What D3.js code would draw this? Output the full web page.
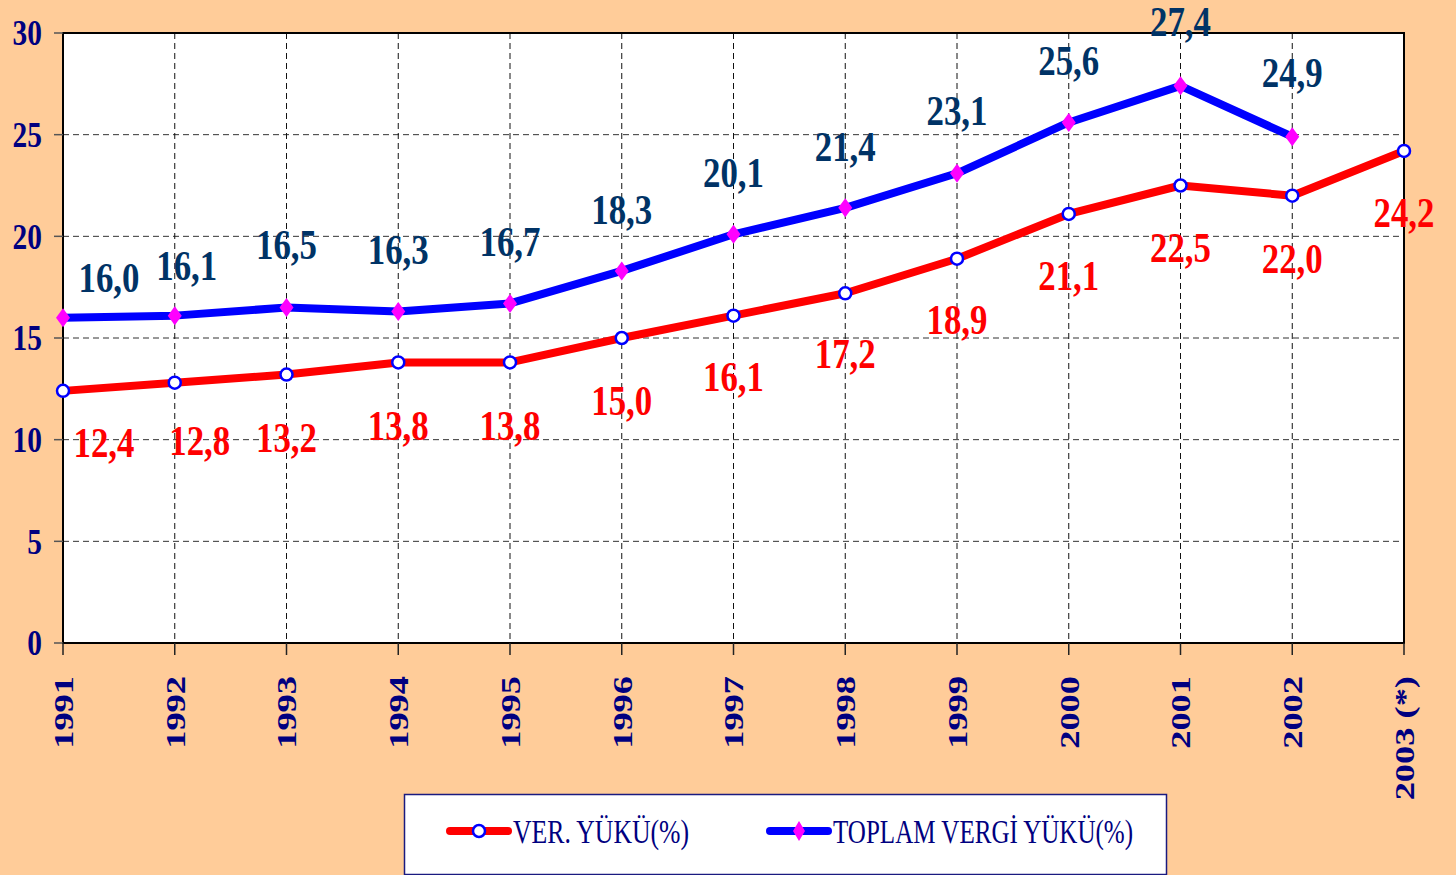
<!DOCTYPE html>
<html>
<head>
<meta charset="utf-8">
<script src="https://cdn.jsdelivr.net/npm/d3@7"></script>
<style>
    html, body { margin: 0; padding: 0; background: #FFCC99; }
    svg { display: block; }
</style>
</head>
<body>
<svg id="chart" width="1456" height="875"></svg>
<script>
// --- data ---
const years = ["1991", "1992", "1993", "1994", "1995", "1996", "1997", "1998", "1999", "2000", "2001", "2002", "2003 (*)"];
const verYuku = [12.4, 12.8, 13.2, 13.8, 13.8, 15.0, 16.1, 17.2, 18.9, 21.1, 22.5, 22.0, 24.2];
const toplamVergiYuku = [16.0, 16.1, 16.5, 16.3, 16.7, 18.3, 20.1, 21.4, 23.1, 25.6, 27.4, 24.9, null];
const yTicks = [0, 5, 10, 15, 20, 25, 30];
const seriesNames = ["VER. YÜKÜ(%)", "TOPLAM VERGİ YÜKÜ(%)"];

// label nudges (pixels) where the labels were moved by hand in the original
const redLabelDx = [41, 25, 0, 0, 0, 0, 0, 0, 0, 0, 0, 0, 0];
const redLabelDy = [51, 58, 63, 63, 63, 62, 61, 60, 61, 61, 62, 63, 61];
const blueLabelDx = [46, 12, 0, 0, 0, 0, 0, 0, 0, 0, 0, 0, 0];
const blueLabelDy = [-40, -50, -63, -62, -62, -62, -62, -62, -63, -62, -65, -64, 0];

const svg = d3.select("#chart");
const plot = { left: 63, right: 1404, top: 33, bottom: 643 };

const x = d3.scalePoint().domain(years).range([plot.left, plot.right]).padding(0);
const y = d3.scaleLinear().domain([0, 30]).range([plot.bottom, plot.top]);

const serif = "'Liberation Serif', 'Times New Roman', serif";
const fmt = v => v.toFixed(1).replace(".", ",");

// plot background
svg.append("rect")
    .attr("x", plot.left).attr("y", plot.top)
    .attr("width", plot.right - plot.left).attr("height", plot.bottom - plot.top)
    .attr("fill", "#ffffff");

// gridlines
svg.append("g")
    .selectAll("line")
    .data(yTicks.filter(t => t > 0 && t < 30))
    .enter().append("line")
    .attr("x1", plot.left).attr("x2", plot.right)
    .attr("y1", d => y(d)).attr("y2", d => y(d))
    .attr("stroke", "#333").attr("stroke-width", 1)
    .attr("stroke-dasharray", "6,4");

svg.append("g")
    .selectAll("line")
    .data(years.slice(1, -1))
    .enter().append("line")
    .attr("x1", d => x(d)).attr("x2", d => x(d))
    .attr("y1", plot.top).attr("y2", plot.bottom)
    .attr("stroke", "#111").attr("stroke-width", 1)
    .attr("stroke-dasharray", "6,4");

// border
svg.append("rect")
    .attr("x", plot.left).attr("y", plot.top)
    .attr("width", plot.right - plot.left).attr("height", plot.bottom - plot.top)
    .attr("fill", "none").attr("stroke", "#000").attr("stroke-width", 2);

// ticks
svg.append("g").selectAll("line")
    .data(yTicks).enter().append("line")
    .attr("x1", plot.left - 9).attr("x2", plot.left)
    .attr("y1", d => y(d)).attr("y2", d => y(d))
    .attr("stroke", "#555").attr("stroke-width", 1.5);

svg.append("g").selectAll("line")
    .data(years).enter().append("line")
    .attr("x1", d => x(d)).attr("x2", d => x(d))
    .attr("y1", plot.bottom).attr("y2", plot.bottom + 12)
    .attr("stroke", "#222").attr("stroke-width", 1.5);

// y tick labels
svg.append("g").selectAll("text")
    .data(yTicks).enter().append("text")
    .attr("transform", d => `translate(42,${y(d)}) scale(0.84,1)`)
    .attr("dy", "0.35em")
    .attr("text-anchor", "end")
    .style("font-family", serif).style("font-weight", "bold")
    .style("font-size", "35px").style("fill", "#000080")
    .text(d => d);

// x tick labels (rotated)
svg.append("g").selectAll("text")
    .data(years).enter().append("text")
    .attr("transform", d => `translate(${x(d)},676) rotate(-90) scale(1.3,1)`)
    .attr("dy", "0.35em")
    .attr("text-anchor", "end")
    .style("font-family", serif).style("font-weight", "bold")
    .style("font-size", "28px").style("fill", "#000080")
    .text(d => d);

// lines
const line = d3.line()
    .defined(d => d.v !== null)
    .x(d => x(d.year))
    .y(d => y(d.v));

const redData = years.map((yr, i) => ({ year: yr, v: verYuku[i], i }));
const blueData = years.map((yr, i) => ({ year: yr, v: toplamVergiYuku[i], i }));

svg.append("path").datum(redData)
    .attr("d", line).attr("fill", "none")
    .attr("stroke", "#ff0000").attr("stroke-width", 8)
    .attr("stroke-linejoin", "round");

svg.append("path").datum(blueData)
    .attr("d", line).attr("fill", "none")
    .attr("stroke", "#0000ff").attr("stroke-width", 8)
    .attr("stroke-linejoin", "round");

// markers
svg.append("g").selectAll("circle")
    .data(redData).enter().append("circle")
    .attr("cx", d => x(d.year)).attr("cy", d => y(d.v))
    .attr("r", 6)
    .attr("fill", "#fff").attr("stroke", "#0000ff").attr("stroke-width", 2.5);

const diamond = "M0,-9.5L7,0L0,9.5L-7,0Z";
svg.append("g").selectAll("path")
    .data(blueData.filter(d => d.v !== null)).enter().append("path")
    .attr("transform", d => `translate(${x(d.year)},${y(d.v)})`)
    .attr("d", diamond)
    .attr("fill", "#ff00ff");

// data labels
svg.append("g").selectAll("text")
    .data(redData).enter().append("text")
    .attr("transform", d => `translate(${x(d.year) + redLabelDx[d.i]},${y(d.v) + redLabelDy[d.i]}) scale(0.83,1)`)
    .attr("dy", "0.35em")
    .attr("text-anchor", "middle")
    .style("font-family", serif).style("font-weight", "bold")
    .style("font-size", "42px").style("fill", "#ff0000")
    .text(d => fmt(d.v));

svg.append("g").selectAll("text")
    .data(blueData.filter(d => d.v !== null)).enter().append("text")
    .attr("transform", d => `translate(${x(d.year) + blueLabelDx[d.i]},${y(d.v) + blueLabelDy[d.i]}) scale(0.83,1)`)
    .attr("dy", "0.35em")
    .attr("text-anchor", "middle")
    .style("font-family", serif).style("font-weight", "bold")
    .style("font-size", "42px").style("fill", "#003366")
    .text(d => fmt(d.v));

// legend
const legend = svg.append("g");
legend.append("rect")
    .attr("x", 404.5).attr("y", 794.5)
    .attr("width", 762).attr("height", 80)
    .attr("fill", "#fff").attr("stroke", "#1a1a80").attr("stroke-width", 1.5);

const legendItems = [
    { name: seriesNames[0], color: "#ff0000", x0: 450, x1: 508, textX: 513, textLen: 176, marker: "circle" },
    { name: seriesNames[1], color: "#0000ff", x0: 770, x1: 828, textX: 833, textLen: 300, marker: "diamond" }
];

legendItems.forEach(item => {
    const ly = 831;
    legend.append("line")
        .attr("x1", item.x0).attr("x2", item.x1)
        .attr("y1", ly).attr("y2", ly)
        .attr("stroke", item.color).attr("stroke-width", 8)
        .attr("stroke-linecap", "round");
    const mx = (item.x0 + item.x1) / 2;
    if (item.marker === "circle") {
        legend.append("circle")
            .attr("cx", mx).attr("cy", ly).attr("r", 6)
            .attr("fill", "#fff").attr("stroke", "#0000ff").attr("stroke-width", 2.5);
    } else {
        legend.append("path")
            .attr("transform", `translate(${mx},${ly})`)
            .attr("d", "M0,-10L6,0L0,10L-6,0Z")
            .attr("fill", "#ff00ff");
    }
    legend.append("text")
        .attr("x", item.textX).attr("y", ly + 12)
        .attr("textLength", item.textLen)
        .attr("lengthAdjust", "spacingAndGlyphs")
        .style("font-family", serif)
        .style("font-size", "34px").style("fill", "#000080")
        .text(item.name);
});
</script>
</body>
</html>
